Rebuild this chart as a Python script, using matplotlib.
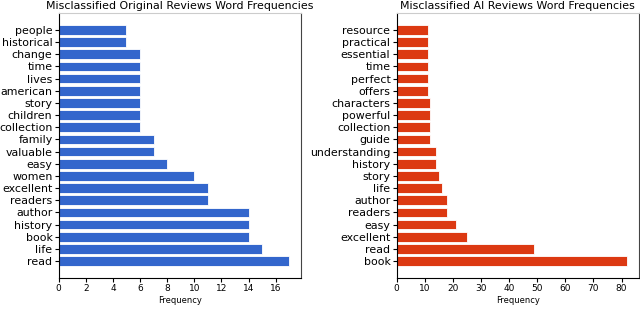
import matplotlib.pyplot as plt

# --- data ---
orig_words = ["read", "life", "book", "history", "author", "readers", "excellent",
              "women", "easy", "valuable", "family", "collection", "children",
              "story", "american", "lives", "time", "change", "historical", "people"]
orig_counts = [17, 15, 14, 14, 14, 11, 11, 10, 8, 7, 7, 6, 6, 6, 6, 6, 6, 6, 5, 5]

ai_words = ["book", "read", "excellent", "easy", "readers", "author", "life",
            "story", "history", "understanding", "guide", "collection", "powerful",
            "characters", "offers", "perfect", "time", "essential", "practical",
            "resource"]
ai_counts = [82, 49, 25, 21, 18, 18, 16, 15, 14, 14, 12, 12, 12, 12,
             11, 11, 11, 11, 11, 11]

fig = plt.figure(figsize=(6.4, 3.09), dpi=100)
ax1 = fig.add_axes([58.7 / 640, 1 - 278 / 309, 242 / 640, 265 / 309])
ax2 = fig.add_axes([396.7 / 640, 1 - 278 / 309, 242 / 640, 265 / 309])

panels = [
    (ax1, orig_words, orig_counts, "#3366cc", "Misclassified Original Reviews Word Frequencies", [0, 2, 4, 6, 8, 10, 12, 14, 16]),
    (ax2, ai_words, ai_counts, "#dc3912", "Misclassified AI Reviews Word Frequencies", [0, 10, 20, 30, 40, 50, 60, 70, 80]),
]

for ax, words, counts, color, title, xt in panels:
    ax.barh(words, counts, color=color, edgecolor="white", linewidth=0.6, height=0.8)
    ax.set_title(title, fontsize=7.9, pad=3)
    ax.set_xlabel("Frequency", fontsize=6, labelpad=2)
    ax.set_xticks(xt)
    ax.tick_params(axis="x", labelsize=6.5, length=3, pad=1.5)
    ax.tick_params(axis="y", labelsize=7.9, length=3, pad=1.5)
    ax.spines["top"].set_color("#cccccc")
    ax.spines["right"].set_color("#444444")

fig.savefig("out.png", dpi=100)
